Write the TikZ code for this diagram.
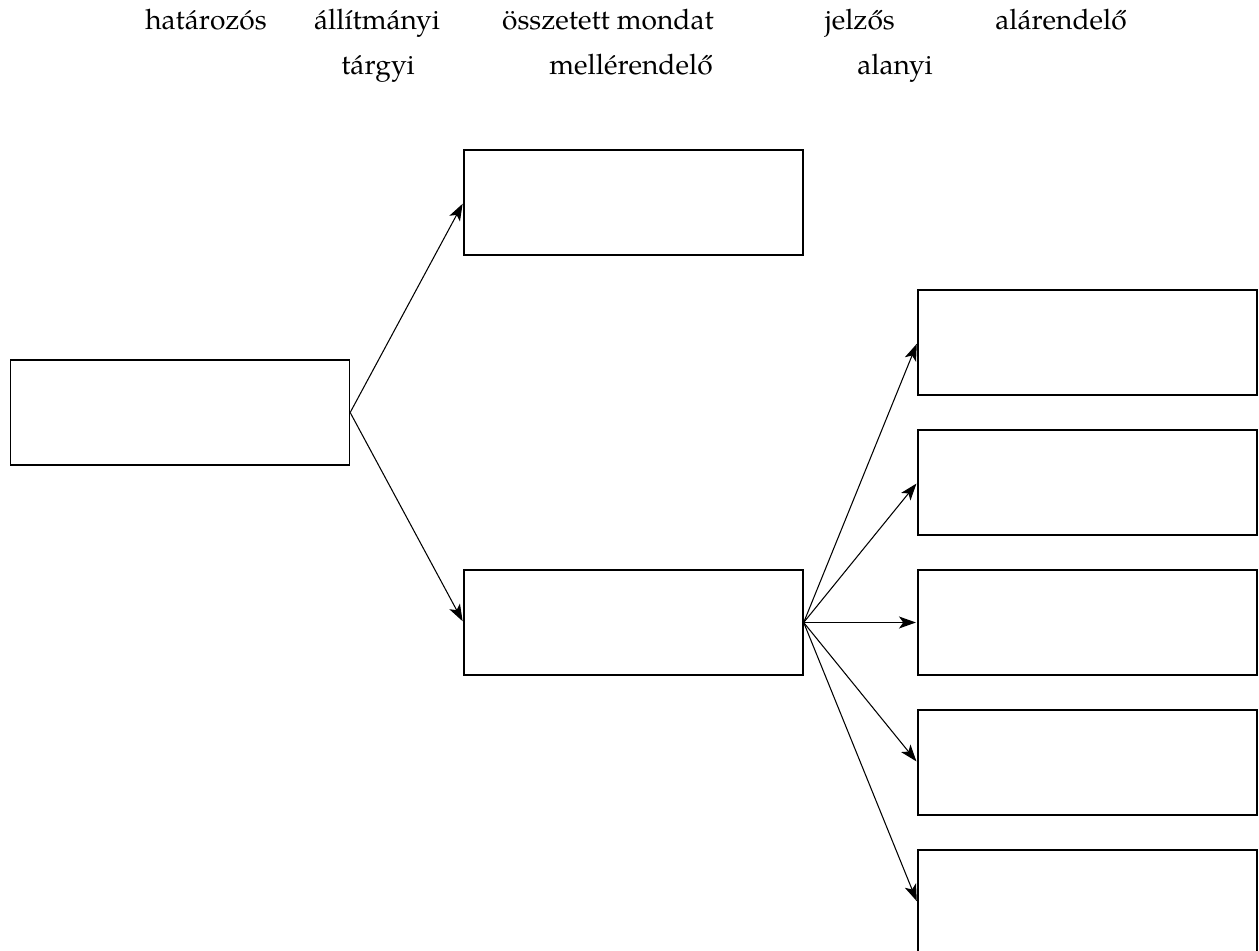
\documentclass[tikz,border=0pt]{standalone}
\usepackage{fontspec}
\setmainfont{TeX Gyre Pagella}
\usetikzlibrary{arrows.meta}

\begin{document}
\begin{tikzpicture}[x=0.025cm, y=-0.025cm,
		box/.style={draw, line width=0.9pt, minimum width=8.475cm, minimum height=2.625cm, inner sep=0pt},
		word/.style={font=\fontsize{20}{24}\selectfont, anchor=base, inner sep=0pt},
		link/.style={line width=0.75pt, -{Stealth[length=12pt, width=8.5pt, inset=3pt]}, shorten >=1pt}]
		%%%%% START %%%%%
		
		\useasboundingbox (0, 0) rectangle (1259, 951);
		
		\node[word] (hat) at (206, 30) {határozós};
		\node[word] (all) at (377, 30) {állítmányi};
		\node[word] (ossz) at (608, 30) {összetett mondat};
		\node[word] (jel) at (860, 30) {jelzős};
		\node[word] (alar) at (1061, 30) {alárendelő};
		\node[word] (targy) at (378, 75) {tárgyi};
		\node[word] (mell) at (631, 75) {mellérendelő};
		\node[word] (alany) at (895, 75) {alanyi};
		
		\node[box] (main) at (180, 412.5) {};
		\node[box] (upper) at (633.5, 202.5) {};
		\node[box] (lower) at (633.5, 622.5) {};
		\foreach \i/\y in {1/342.5, 2/482.5, 3/622.5, 4/762.5, 5/902.5}
			\node[box] (sub\i) at (1087.5, \y) {};
		
		\draw[link] (main.east) -- (upper.west);
		\draw[link] (main.east) -- (lower.west);
		\foreach \i in {1,...,5}
			\draw[link] (lower.east) -- (sub\i.west);
		
		%%%%% END %%%%%
	\end{tikzpicture}
\end{document}
